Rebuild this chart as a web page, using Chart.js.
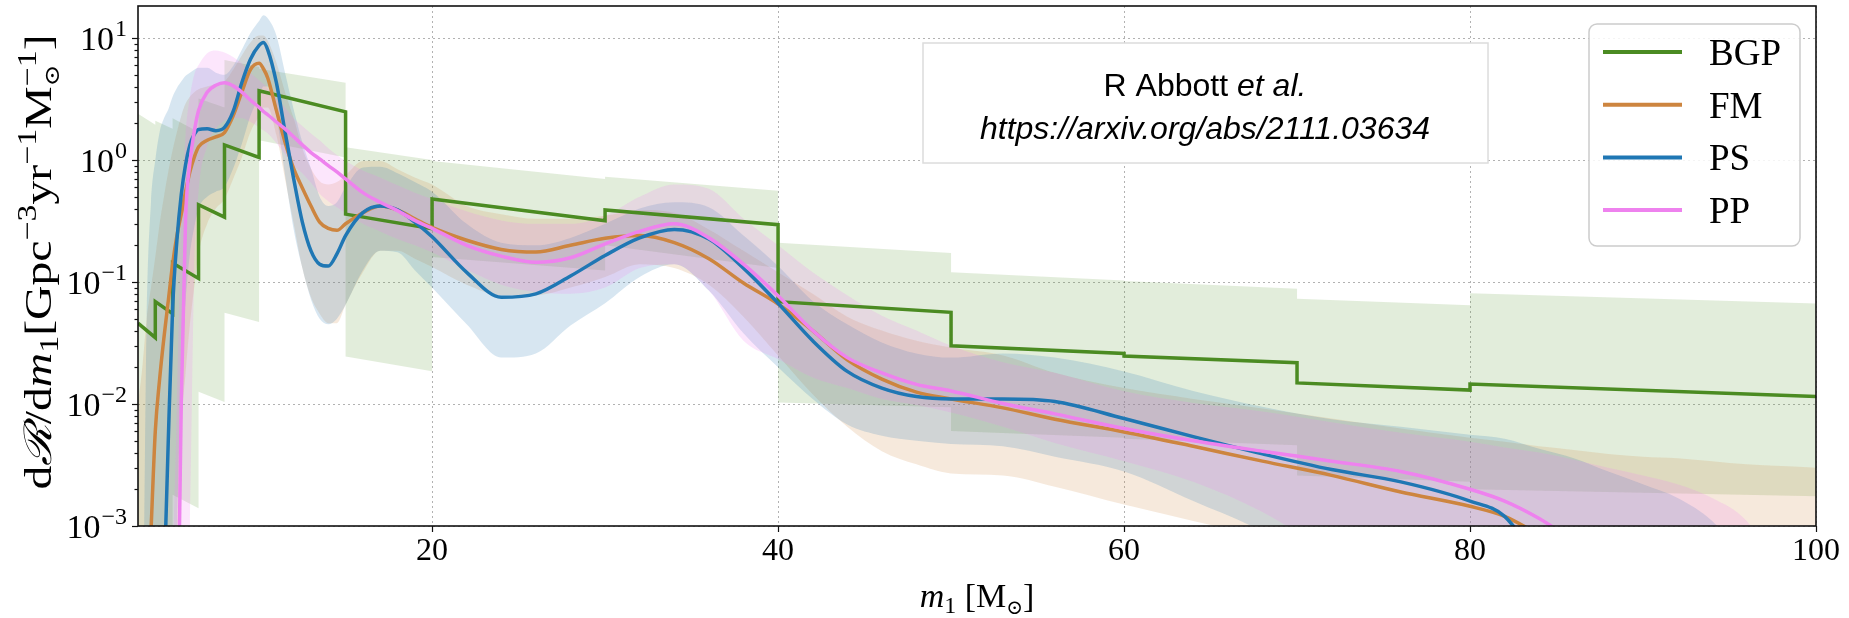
<!DOCTYPE html>
<html>
<head>
<meta charset="utf-8">
<script src="https://cdn.jsdelivr.net/npm/chart.js@4.4.0/dist/chart.umd.min.js"></script>
<style>
    html, body { margin: 0; padding: 0; background: #fff; }
    canvas { display: block; }
</style>
</head>
<body>
<canvas id="chart" width="1849" height="618"></canvas>
<script>
// primary mass grid (M_sun) shared by the smooth models
const mass = [3, 3.25, 3.5, 3.75, 4, 4.25, 4.5, 4.75, 5, 5.25,
    5.5, 5.75, 6, 6.25, 6.5, 7, 7.5, 8, 8.5, 9,
    9.5, 10, 10.25, 10.5, 11, 11.5, 12, 12.5, 13, 13.5,
    14, 14.5, 15, 16, 17, 18, 19, 20, 22, 24,
    26, 28, 30, 32, 34, 36, 38, 40, 42, 44,
    46, 48, 50, 53, 56, 60, 64, 68, 72, 76,
    80, 82, 84, 86, 88, 90, 92, 94, 96, 98, 100];

// PS (power law + spline)
const psMed = [null, null, null, null, null, null, 0.0003, 0.005, 0.06, 0.22,
    0.52, 0.92, 1.33, 1.62, 1.78, 1.8, 1.74, 1.85, 2.5, 4.3,
    6.7, 8.7, 9.2, 8.0, 4.3, 1.7, 0.7, 0.31, 0.18, 0.14,
    0.135, 0.17, 0.24, 0.37, 0.42, 0.39, 0.31, 0.235, 0.12, 0.075,
    0.08, 0.112, 0.165, 0.23, 0.27, 0.225, 0.13, 0.067, 0.033, 0.0185,
    0.0135, 0.0115, 0.011, 0.011, 0.0105, 0.0076, 0.0054, 0.0039, 0.0029, 0.0023,
    0.0016, 0.0012, 0.0005, null, null, null, null, null, null, null, null];
const psHi = [0.00005, 0.0001, 0.05, 0.45, 1.0, 1.7, 2.2, 2.6, 3.3, 3.9,
    4.4, 4.9, 5.2, 5.5, 5.7, 5.7, 5.2, 5.0, 5.9, 8.0,
    11.0, 13.8, 15.4, 14.5, 10.5, 5.2, 2.6, 1.4, 0.85, 0.5,
    0.42, 0.45, 0.6, 0.87, 0.88, 0.78, 0.66, 0.55, 0.3, 0.21,
    0.2, 0.23, 0.3, 0.4, 0.45, 0.41, 0.24, 0.135, 0.07, 0.045,
    0.032, 0.026, 0.024, 0.026, 0.024, 0.0185, 0.0128, 0.0095, 0.0075, 0.0065,
    0.0056, 0.0052, 0.0043, 0.0036, 0.0028, 0.0022, 0.0017, 0.0011, 0.0005, 0.0002, 0.0001];
const psLo = [0.00001, 0.00001, 0.00001, 0.00001, 0.00001, 0.00001, 0.00001, 0.00002, 0.00005, 0.0008,
    0.02, 0.07, 0.17, 0.28, 0.4, 0.5, 0.55, 0.6, 0.85, 1.35,
    2.3, 3.3, 4.0, 4.0, 2.3, 0.75, 0.27, 0.13, 0.072, 0.05,
    0.045, 0.05, 0.065, 0.125, 0.18, 0.175, 0.125, 0.09, 0.045, 0.024,
    0.026, 0.044, 0.067, 0.11, 0.14, 0.085, 0.038, 0.02, 0.011, 0.0068,
    0.0055, 0.005, 0.0047, 0.0045, 0.0037, 0.0028, 0.0016, 0.0009, 0.0004, 0.0002,
    0.0001, 0.0001, 0.0001, 0.0001, 0.0001, 0.0001, 0.0001, 0.0001, 0.0001, 0.0001, 0.0001];

// FM (flexible mixtures)
const fmMed = [null, null, null, 0.0009, 0.006, 0.016, 0.035, 0.07, 0.14, 0.24,
    0.36, 0.55, 0.8, 1.05, 1.28, 1.45, 1.55, 1.68, 2.3, 3.6,
    5.5, 6.2, 5.6, 4.7, 2.55, 1.4, 0.85, 0.59, 0.42, 0.31,
    0.275, 0.265, 0.3, 0.37, 0.42, 0.39, 0.33, 0.28, 0.22, 0.185,
    0.176, 0.2, 0.228, 0.24, 0.21, 0.155, 0.098, 0.066, 0.04, 0.023,
    0.016, 0.0125, 0.011, 0.0093, 0.0075, 0.0059, 0.0045, 0.0034, 0.0026, 0.0019,
    0.00145, 0.0012, 0.00085, null, null, null, null, null, null, null, null];
const fmHi = [0.01, 0.02, 0.05, 0.09, 0.16, 0.3, 0.5, 0.8, 1.2, 1.7,
    2.3, 2.9, 3.3, 3.6, 3.8, 4.0, 4.2, 4.4, 5.5, 7.2,
    9.2, 10.5, 10.5, 9.5, 6.3, 3.6, 2.2, 1.25, 0.85, 0.67,
    0.63, 0.66, 0.75, 0.98, 0.98, 0.84, 0.72, 0.63, 0.42, 0.36,
    0.33, 0.33, 0.35, 0.39, 0.37, 0.27, 0.18, 0.12, 0.08, 0.052,
    0.04, 0.033, 0.029, 0.025, 0.018, 0.0135, 0.011, 0.0092, 0.0076, 0.0063,
    0.0053, 0.0049, 0.0045, 0.0042, 0.0039, 0.0037, 0.0036, 0.0034, 0.0032, 0.0031, 0.003];
const fmLo = [0.00001, 0.00001, 0.00001, 0.00001, 0.00001, 0.00001, 0.00001, 0.00001, 0.00001, 0.0005,
    0.006, 0.018, 0.045, 0.09, 0.17, 0.3, 0.4, 0.48, 0.7, 1.05,
    1.7, 2.3, 2.7, 2.7, 1.6, 0.7, 0.3, 0.13, 0.075, 0.055,
    0.046, 0.046, 0.065, 0.12, 0.18, 0.18, 0.155, 0.133, 0.095, 0.078,
    0.078, 0.09, 0.11, 0.14, 0.13, 0.095, 0.052, 0.025, 0.012, 0.0065,
    0.0041, 0.0032, 0.0027, 0.0026, 0.0021, 0.0015, 0.0011, 0.0008, 0.0005, 0.0003,
    0.0002, 0.0002, 0.0002, 0.0002, 0.0002, 0.0002, 0.0002, 0.0002, 0.0002, 0.0002, 0.0002];

// PP (power law + peak)
const ppMed = [null, null, null, null, null, null, null, null, null, 0.00003,
    0.01, 0.33, 0.95, 1.7, 2.55, 3.6, 4.1, 4.3, 4.05, 3.6,
    3.1, 2.7, 2.5, 2.35, 2.05, 1.8, 1.55, 1.33, 1.15, 1.02,
    0.9, 0.8, 0.7, 0.54, 0.45, 0.385, 0.32, 0.275, 0.2, 0.163,
    0.145, 0.158, 0.205, 0.26, 0.3, 0.23, 0.14, 0.077, 0.04, 0.024,
    0.018, 0.0145, 0.0128, 0.0101, 0.0083, 0.0063, 0.005, 0.0041, 0.0034, 0.0028,
    0.002, 0.0016, 0.00115, 0.00075, null, null, null, null, null, null, null];
const ppHi = [0.00001, 0.00001, 0.00001, 0.00001, 0.00001, 0.00002, 0.00005, 0.0001, 0.0005, 0.01,
    0.3, 1.6, 3.3, 5.0, 6.0, 7.5, 7.9, 7.6, 7.0, 6.2,
    5.2, 4.5, 4.2, 3.9, 3.2, 2.7, 2.2, 1.9, 1.65, 1.45,
    1.25, 1.1, 0.98, 0.82, 0.72, 0.62, 0.54, 0.48, 0.38, 0.32,
    0.3, 0.3, 0.35, 0.5, 0.63, 0.58, 0.33, 0.2, 0.12, 0.078,
    0.053, 0.04, 0.03, 0.022, 0.018, 0.0127, 0.0102, 0.0087, 0.0071, 0.0058,
    0.0049, 0.0044, 0.004, 0.0035, 0.003, 0.0026, 0.0022, 0.0017, 0.0011, 0.0004, 0.0002];
const ppLo = [0.00001, 0.00001, 0.00001, 0.00001, 0.00001, 0.00001, 0.00001, 0.00001, 0.00001, 0.00001,
    0.00001, 0.0001, 0.0008, 0.12, 0.55, 1.3, 1.8, 2.1, 2.2, 2.2,
    2.05, 1.85, 1.75, 1.65, 1.38, 1.12, 0.9, 0.78, 0.65, 0.53,
    0.46, 0.41, 0.37, 0.3, 0.26, 0.225, 0.2, 0.175, 0.126, 0.095,
    0.083, 0.08, 0.09, 0.13, 0.14, 0.085, 0.033, 0.0234, 0.0165, 0.0135,
    0.011, 0.0098, 0.0085, 0.0065, 0.0048, 0.0034, 0.0023, 0.0013, 0.0006, 0.0003,
    0.0001, 0.0001, 0.0001, 0.0001, 0.0001, 0.0001, 0.0001, 0.0001, 0.0001, 0.0001, 0.0001];

// BGP (binned gaussian process): value at start / end of each bin
const bgpEdges = [3, 4, 5, 6.5, 8, 10, 15, 20, 30, 40, 50, 60, 70, 80, 100];
const bgpStart = [0.046, 0.069, 0.143, 0.43, 1.33, 3.7, 0.36, 0.48, 0.39, 0.069, 0.030, 0.0247, 0.0149, 0.0146];
const bgpEnd = [0.035, 0.055, 0.107, 0.34, 1.05, 2.48, 0.274, 0.318, 0.295, 0.0564, 0.026, 0.0218, 0.0130, 0.0115];
const bgpHiStart = [2.4, 2.1, 2.2, 3.2, 6.6, 5.6, 1.27, 0.98, 0.73, 0.21, 0.12, 0.102, 0.073, 0.081];
const bgpHiEnd = [1.95, 1.8, 1.7, 2.7, 5.8, 4.3, 1.0, 0.70, 0.56, 0.173, 0.103, 0.088, 0.0645, 0.0665];
const bgpLoStart = [0.0001, 0.0001, 0.0018, 0.0126, 0.056, 1.45, 0.0245, 0.16, 0.2, 0.0103, 0.006, 0.0052, 0.0026, 0.002];
const bgpLoEnd = [0.0001, 0.0001, 0.0014, 0.0104, 0.047, 1.05, 0.0186, 0.124, 0.13, 0.0094, 0.0053, 0.0046, 0.0023, 0.00175];

const models = ['BGP', 'FM', 'PS', 'PP'];
const xTicks = [20, 40, 60, 80, 100];
const yTicks = [0.001, 0.01, 0.1, 1, 10];
const yTickExp = ['\u22123', '\u22122', '\u22121', '0', '1'];

const COLORS = { BGP: '#4b8b22', FM: '#cd853f', PS: '#1f77b4', PP: '#ee82ee' };
const BANDS = {
    BGP: 'rgba(76, 140, 34, 0.16)',
    FM: 'rgba(205, 133, 63, 0.18)',
    PS: 'rgba(31, 119, 180, 0.18)',
    PP: 'rgba(238, 130, 238, 0.2)'
};

const serif = "'Liberation Serif', 'DejaVu Serif', serif";
const sans = "'Liberation Sans', Arial, sans-serif";

function smooth(values) {
    return mass.map((m, i) => ({ x: m, y: values[i] }));
}

function steps(starts, ends) {
    const pts = [];
    for (let i = 0; i < starts.length; i++) {
        pts.push({ x: bgpEdges[i], y: starts[i] });
        pts.push({ x: bgpEdges[i + 1], y: ends[i] });
    }
    return pts;
}

function lineSet(label, data, order, stepped) {
    return {
        label, data, order,
        borderColor: COLORS[label], borderWidth: 3.5,
        pointRadius: 0, fill: false, spanGaps: false,
        tension: 0, cubicInterpolationMode: stepped ? 'default' : 'monotone'
    };
}

function bandSet(label, data, order, upper, stepped) {
    return {
        label: label + (upper ? ' upper' : ' lower'), data, order,
        borderWidth: 0, borderColor: 'transparent', pointRadius: 0,
        backgroundColor: BANDS[label],
        fill: upper ? '+1' : false,
        tension: 0, cubicInterpolationMode: stepped ? 'default' : 'monotone'
    };
}

const datasets = [
    lineSet('PP', smooth(ppMed), 0),
    lineSet('PS', smooth(psMed), 1),
    lineSet('FM', smooth(fmMed), 2),
    lineSet('BGP', steps(bgpStart, bgpEnd), 3, true),
    bandSet('BGP', steps(bgpHiStart, bgpHiEnd), 7, true, true),
    bandSet('BGP', steps(bgpLoStart, bgpLoEnd), 7, false, true),
    bandSet('FM', smooth(fmHi), 6, true),
    bandSet('FM', smooth(fmLo), 6, false),
    bandSet('PS', smooth(psHi), 5, true),
    bandSet('PS', smooth(psLo), 5, false),
    bandSet('PP', smooth(ppHi), 4, true),
    bandSet('PP', smooth(ppLo), 4, false)
];

function fontStr(seg) {
    return (seg.italic ? 'italic ' : '') + seg.size + 'px ' + (seg.family || serif);
}

// draws a run of text pieces centred on (0,0) of the current transform
function drawRich(ctx, segs, fitWidth) {
    const widths = segs.map(seg => { ctx.font = fontStr(seg); return ctx.measureText(seg.t).width; });
    const adv = segs.map((seg, i) => {
        if (seg.stack) return 0;
        if (i > 0 && segs[i - 1].stack) return Math.max(widths[i], widths[i - 1]);
        return widths[i];
    });
    const total = adv.reduce((a, b) => a + b, 0);
    if (fitWidth) ctx.scale(fitWidth / total, 1);
    let cx = -total / 2;
    ctx.textAlign = 'left';
    ctx.textBaseline = 'alphabetic';
    ctx.fillStyle = '#000';
    segs.forEach((seg, i) => {
        ctx.font = fontStr(seg);
        ctx.fillText(seg.t, cx, seg.dy || 0);
        cx += adv[i];
    });
}

const yTitle = [
    { t: 'd', size: 38 },
    { t: '\u211B', size: 38, italic: true },
    { t: '/d', size: 38 },
    { t: 'm', size: 38, italic: true },
    { t: '1', size: 27, dy: 7 },
    { t: '[Gpc', size: 38 },
    { t: '\u22123', size: 27, dy: -15 },
    { t: 'yr', size: 38 },
    { t: '\u22121', size: 27, dy: -15 },
    { t: 'M', size: 38 },
    { t: '\u2299', size: 21, dy: 8, stack: true },
    { t: '\u22121', size: 27, dy: -15 },
    { t: ']', size: 38 }
];

const xTitle = [
    { t: 'm', size: 34, italic: true },
    { t: '1', size: 24, dy: 6 },
    { t: ' [M', size: 34 },
    { t: '\u2299', size: 20, dy: 7 },
    { t: ']', size: 34 }
];

function roundRect(ctx, x, y, w, h, r) {
    ctx.beginPath();
    ctx.moveTo(x + r, y);
    ctx.arcTo(x + w, y, x + w, y + h, r);
    ctx.arcTo(x + w, y + h, x, y + h, r);
    ctx.arcTo(x, y + h, x, y, r);
    ctx.arcTo(x, y, x + w, y, r);
    ctx.closePath();
}

const decor = {
    id: 'decor',
    afterDatasetsDraw(chart) {
        const ctx = chart.ctx;
        const area = chart.chartArea;
        ctx.save();

        // citation box
        ctx.fillStyle = '#fff';
        ctx.strokeStyle = '#dcdcdc';
        ctx.lineWidth = 1.5;
        ctx.fillRect(923, 43, 565, 120);
        ctx.strokeRect(923, 43, 565, 120);
        ctx.translate(1205, 96);
        drawRich(ctx, [
            { t: 'R Abbott ', size: 32, family: sans },
            { t: 'et al.', size: 32, family: sans, italic: true }
        ]);
        ctx.setTransform(1, 0, 0, 1, 0, 0);
        ctx.translate(1205, 139);
        drawRich(ctx, [{ t: 'https://arxiv.org/abs/2111.03634', size: 32, family: sans, italic: true }]);
        ctx.setTransform(1, 0, 0, 1, 0, 0);

        // legend
        roundRect(ctx, 1589, 24, 211, 222, 8);
        ctx.fillStyle = 'rgba(255,255,255,0.85)';
        ctx.fill();
        ctx.strokeStyle = '#cccccc';
        ctx.lineWidth = 1.5;
        ctx.stroke();
        models.forEach((name, i) => {
            const ds = chart.data.datasets.find(d => d.label === name);
            const y = 52 + i * 52.7;
            ctx.strokeStyle = ds.borderColor;
            ctx.lineWidth = 4;
            ctx.beginPath();
            ctx.moveTo(1603, y);
            ctx.lineTo(1682, y);
            ctx.stroke();
            ctx.fillStyle = '#000';
            ctx.font = '37px ' + serif;
            ctx.textAlign = 'left';
            ctx.textBaseline = 'alphabetic';
            ctx.fillText(name, 1709, y + 13);
        });

        // frame
        ctx.strokeStyle = '#111';
        ctx.lineWidth = 1.6;
        ctx.strokeRect(area.left, area.top, area.right - area.left, area.bottom - area.top);
        ctx.restore();
    },
    afterDraw(chart) {
        const ctx = chart.ctx;
        const area = chart.chartArea;
        const ys = chart.scales.y;
        const xs = chart.scales.x;
        ctx.save();
        ctx.strokeStyle = '#111';
        ctx.lineWidth = 1.2;

        // y tick marks (major + minor)
        for (let e = -3; e <= 1; e++) {
            for (let k = 1; k <= 9; k++) {
                const v = k * Math.pow(10, e);
                if (v > ys.max) continue;
                const py = Math.round(ys.getPixelForValue(v)) + 0.5;
                ctx.beginPath();
                ctx.moveTo(area.left, py);
                ctx.lineTo(area.left - (k === 1 ? 6 : 3.5), py);
                ctx.stroke();
            }
        }
        // x tick marks
        xTicks.forEach(v => {
            const px = Math.round(xs.getPixelForValue(v)) + 0.5;
            ctx.beginPath();
            ctx.moveTo(px, area.bottom);
            ctx.lineTo(px, area.bottom + 6);
            ctx.stroke();
        });

        // y tick labels 10^n
        ctx.fillStyle = '#000';
        ctx.textBaseline = 'alphabetic';
        ctx.textAlign = 'left';
        yTicks.forEach((v, i) => {
            const py = ys.getPixelForValue(v);
            ctx.font = '24px ' + serif;
            const we = ctx.measureText(yTickExp[i]).width;
            ctx.font = '34px ' + serif;
            const wb = ctx.measureText('10').width;
            const right = area.left - 11;
            ctx.fillText('10', right - we - wb - 1, py + 12);
            ctx.font = '24px ' + serif;
            ctx.fillText(yTickExp[i], right - we, py - 2);
        });

        // axis titles
        ctx.translate((area.left + area.right) / 2, 607);
        drawRich(ctx, xTitle);
        ctx.setTransform(1, 0, 0, 1, 0, 0);
        ctx.translate(51, 262);
        ctx.rotate(-Math.PI / 2);
        drawRich(ctx, yTitle, 455);
        ctx.restore();
    }
};

new Chart(document.getElementById('chart'), {
    type: 'line',
    data: { datasets },
    options: {
        responsive: false,
        animation: false,
        devicePixelRatio: 1,
        layout: { padding: { top: 6, right: 33, left: 0, bottom: 0 } },
        plugins: {
            legend: { display: false },
            tooltip: { enabled: false }
        },
        scales: {
            x: {
                type: 'linear',
                min: 3,
                max: 100,
                afterBuildTicks: s => { s.ticks = xTicks.map(v => ({ value: v })); },
                afterFit: s => { s.height = 92; },
                grid: { color: 'rgba(0,0,0,0.3)', lineWidth: 1, drawTicks: false },
                border: { display: false, dash: [2, 3] },
                ticks: { font: { family: serif, size: 32 }, color: '#000', padding: 6, maxRotation: 0, autoSkip: false }
            },
            y: {
                type: 'logarithmic',
                min: 0.001,
                max: 18.3,
                afterBuildTicks: s => { s.ticks = yTicks.map(v => ({ value: v })); },
                afterFit: s => { s.width = 138; },
                grid: { color: 'rgba(0,0,0,0.3)', lineWidth: 1, drawTicks: false },
                border: { display: false, dash: [2, 3] },
                ticks: { display: false }
            }
        }
    },
    plugins: [decor]
});
</script>
</body>
</html>
